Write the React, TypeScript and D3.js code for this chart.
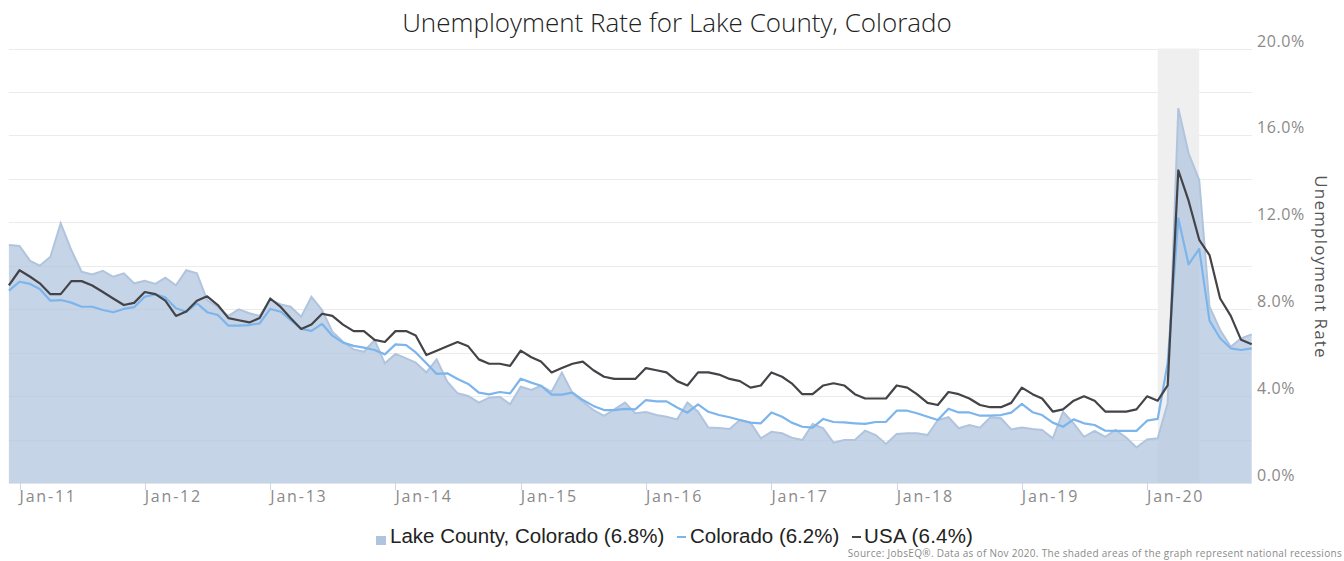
import React from "react";
import * as d3 from "d3";

// ---------- data ----------
const startMonth = new Date(2010, 11, 1); // Dec 2010, monthly observations

const lakeCounty = [
  10.96,
  10.92, 10.23, 10.01, 10.42, 11.96, 10.73, 9.73, 9.61, 9.77, 9.5, 9.66, 9.2,
  9.31, 9.17, 9.46, 9.11, 9.8, 9.66, 8.43, 8.1, 7.7, 8.0, 7.82, 7.7,
  8.43, 8.23, 8.12, 7.66, 8.58, 7.97, 6.97, 6.51, 6.16, 6.05, 6.59, 5.52,
  5.95, 5.75, 5.55, 5.1, 5.7, 4.67, 4.14, 4.02, 3.71, 3.94, 3.98, 3.63,
  4.44, 4.29, 4.48, 4.21, 5.09, 4.14, 3.75, 3.37, 3.1, 3.4, 3.71, 3.22,
  3.28, 3.14, 3.06, 2.94, 3.71, 3.29, 2.57, 2.54, 2.5, 2.91, 2.79, 2.07,
  2.37, 2.3, 2.1, 1.99, 2.73, 2.53, 1.87, 1.99, 1.99, 2.42, 2.22, 1.81,
  2.27, 2.3, 2.3, 2.22, 2.91, 3.04, 2.53, 2.68, 2.56, 3.04, 2.99, 2.48,
  2.57, 2.5, 2.45, 2.07, 3.29, 2.76, 2.14, 2.41, 2.14, 2.45, 2.11, 1.65,
  2.02, 2.07, 3.68, 17.25, 15.18, 13.95, 8.12, 7.05, 6.28, 6.67, 6.85,
];

const colorado = [
  8.86,
  9.27, 9.17, 8.94, 8.4, 8.43, 8.31, 8.12, 8.12, 7.97, 7.87, 8.02, 8.1,
  8.58, 8.69, 8.55, 8.05, 7.89, 8.28, 7.87, 7.74, 7.25, 7.25, 7.28, 7.36,
  8.02, 7.89, 7.51, 7.1, 7.01, 7.33, 6.79, 6.47, 6.32, 6.24, 6.13, 5.93,
  6.39, 6.36, 6.02, 5.52, 5.03, 5.06, 4.8, 4.57, 4.17, 4.09, 4.2, 4.14,
  4.81, 4.63, 4.49, 4.08, 4.08, 4.17, 3.83, 3.56, 3.37, 3.37, 3.42, 3.4,
  3.83, 3.77, 3.77, 3.49, 3.25, 3.63, 3.29, 3.14, 3.04, 2.91, 2.79, 2.76,
  3.26, 3.06, 2.79, 2.6, 2.56, 2.96, 2.82, 2.8, 2.76, 2.73, 2.82, 2.83,
  3.34, 3.34, 3.22, 3.06, 2.91, 3.43, 3.26, 3.26, 3.11, 3.11, 3.14, 3.25,
  3.65, 3.27, 3.14, 2.79, 2.6, 2.94, 2.76, 2.68, 2.42, 2.41, 2.41, 2.41,
  2.88, 2.96, 5.52, 12.19, 10.07, 10.78, 7.48, 6.67, 6.21, 6.13, 6.21,
];

const usa = [
  9.1,
  9.8, 9.5, 9.2, 8.7, 8.7, 9.3, 9.3, 9.1, 8.8, 8.5, 8.2, 8.3,
  8.8, 8.7, 8.4, 7.7, 7.9, 8.4, 8.6, 8.2, 7.6, 7.5, 7.4, 7.6,
  8.5, 8.1, 7.6, 7.1, 7.3, 7.8, 7.7, 7.3, 7.0, 7.0, 6.6, 6.5,
  7.0, 7.0, 6.8, 5.9, 6.1, 6.3, 6.5, 6.3, 5.7, 5.5, 5.5, 5.4,
  6.1, 5.8, 5.6, 5.1, 5.3, 5.5, 5.6, 5.2, 4.9, 4.8, 4.8, 4.8,
  5.3, 5.2, 5.1, 4.7, 4.5, 5.1, 5.1, 5.0, 4.8, 4.7, 4.4, 4.5,
  5.1, 4.9, 4.6, 4.1, 4.1, 4.5, 4.6, 4.5, 4.1, 3.9, 3.9, 3.9,
  4.5, 4.4, 4.1, 3.7, 3.6, 4.2, 4.1, 3.9, 3.6, 3.5, 3.5, 3.7,
  4.4, 4.1, 3.9, 3.3, 3.4, 3.8, 4.0, 3.8, 3.3, 3.3, 3.3, 3.4,
  4.0, 3.8, 4.5, 14.4, 13.0, 11.2, 10.5, 8.5, 7.7, 6.6, 6.4,
];

const xTickYears = [2011, 2012, 2013, 2014, 2015, 2016, 2017, 2018, 2019, 2020];
const yLabelValues = [0, 4, 8, 12, 16, 20];
const yGridValues = [0, 2, 4, 6, 8, 10, 12, 14, 16, 18, 20];
const recessionStart = new Date(2020, 1, 1);
const recessionEnd = new Date(2020, 5, 1);

const titleText = "Unemployment Rate for Lake County, Colorado";
const yAxisTitle = "Unemployment Rate";
const legendLabels = [
  "Lake County, Colorado (6.8%)",
  "Colorado (6.2%)",
  "USA (6.4%)",
];
const sourceText =
  "Source: JobsEQ®. Data as of Nov 2020. The shaded areas of the graph represent national recessions";

// ---------- styles ----------
const C_LAKE = "#b0c4de";
const C_CO = "#7cb5ec";
const C_USA = "#434348";
const AXIS_FONT = "'Open Sans', 'DejaVu Sans', sans-serif";
const LEGEND_FONT = "'Liberation Sans', Arial, sans-serif";

export default function App() {
  const W = 1344;
  const H = 561;
  const left = 8.9;
  const right = 1251.7;
  const top = 48.5;
  const bottom = 483.3;

  const dates = lakeCounty.map((_, i) => d3.timeMonth.offset(startMonth, i));
  const x = d3
    .scaleTime()
    .domain([dates[0], dates[dates.length - 1]])
    .range([left, right]);
  const y = d3.scaleLinear().domain([0, 20]).range([bottom, top]);

  const areaGen = d3
    .area<number>()
    .x((_, i) => x(dates[i]))
    .y0(y(0))
    .y1((d) => y(d));
  const lineGen = d3
    .line<number>()
    .x((_, i) => x(dates[i]))
    .y((d) => y(d));

  const xTicks = xTickYears.map((yr) => new Date(yr, 0, 1));

  return (
    <div style={{ position: "absolute", left: 0, top: 0 }}>
      <svg width={W} height={H} style={{ display: "block", background: "#fff" }}>
        {/* title */}
        <text
          x={677}
          y={32}
          textAnchor="middle"
          fontFamily={AXIS_FONT}
          fontWeight={300}
          fontSize={26}
          fill="#222"
        >
          {titleText}
        </text>

        {/* grid */}
        {yGridValues.map((v) => (
          <line
            key={"g" + v}
            x1={left}
            x2={right}
            y1={Math.round(y(v)) + 0.5}
            y2={Math.round(y(v)) + 0.5}
            stroke="#ebebeb"
            strokeWidth={1}
          />
        ))}

        {/* recession band */}
        <rect
          x={x(recessionStart)}
          y={top}
          width={x(recessionEnd) - x(recessionStart)}
          height={bottom - top}
          fill="#efefef"
        />

        {/* x axis ticks */}
        {xTicks.map((d) => (
          <line
            key={"t" + d.getFullYear()}
            x1={Math.round(x(d)) + 0.5}
            x2={Math.round(x(d)) + 0.5}
            y1={bottom}
            y2={bottom + 7}
            stroke="#ccd6eb"
          />
        ))}

        {/* series */}
        <path d={areaGen(lakeCounty) ?? ""} fill={C_LAKE} fillOpacity={0.72} stroke="none" />
        <path d={lineGen(lakeCounty) ?? ""} fill="none" stroke={C_LAKE} strokeWidth={2} />
        <path d={lineGen(colorado) ?? ""} fill="none" stroke={C_CO} strokeWidth={2.2} strokeLinejoin="round" />
        <path d={lineGen(usa) ?? ""} fill="none" stroke={C_USA} strokeWidth={2.2} strokeLinejoin="round" />

        {/* x labels */}
        {xTicks.map((d) => (
          <text
            key={"xl" + d.getFullYear()}
            x={x(d)}
            y={502}
            fontFamily={AXIS_FONT}
            fontSize={16}
            letterSpacing={1.8}
            fill="#8a8a8a"
          >
            {d3.timeFormat("%b-%y")(d)}
          </text>
        ))}

        {/* y labels (right) */}
        {yLabelValues.map((v) => (
          <text
            key={"yl" + v}
            x={1257}
            y={y(v) - 2}
            fontFamily={AXIS_FONT}
            fontSize={16}
            letterSpacing={0.6}
            fill="#8a8a8a"
          >
            {d3.format(".1f")(v) + "%"}
          </text>
        ))}

        {/* y axis title */}
        <text
          transform={`translate(1315,267) rotate(90)`}
          textAnchor="middle"
          fontFamily={AXIS_FONT}
          fontSize={17}
          letterSpacing={1.2}
          fill="#555"
        >
          {yAxisTitle}
        </text>

        {/* legend */}
        <rect x={376} y={536} width={10} height={9} fill={C_LAKE} />
        <text x={390} y={543} fontFamily={LEGEND_FONT} fontSize={20.5} fill="#222">
          {legendLabels[0]}
        </text>
        <line x1={677} x2={686} y1={537} y2={537} stroke={C_CO} strokeWidth={2} />
        <text x={690} y={543} fontFamily={LEGEND_FONT} fontSize={20.5} fill="#222">
          {legendLabels[1]}
        </text>
        <line x1={852} x2={861} y1={537} y2={537} stroke={C_USA} strokeWidth={2} />
        <text x={864} y={543} fontFamily={LEGEND_FONT} fontSize={20.5} letterSpacing={0.2} fill="#222">
          {legendLabels[2]}
        </text>

        {/* source */}
        <text
          x={1342}
          y={557}
          textAnchor="end"
          fontFamily={AXIS_FONT}
          fontSize={10}
          letterSpacing={0.3}
          fill="#8a8a8a"
        >
          {sourceText}
        </text>
      </svg>
    </div>
  );
}
